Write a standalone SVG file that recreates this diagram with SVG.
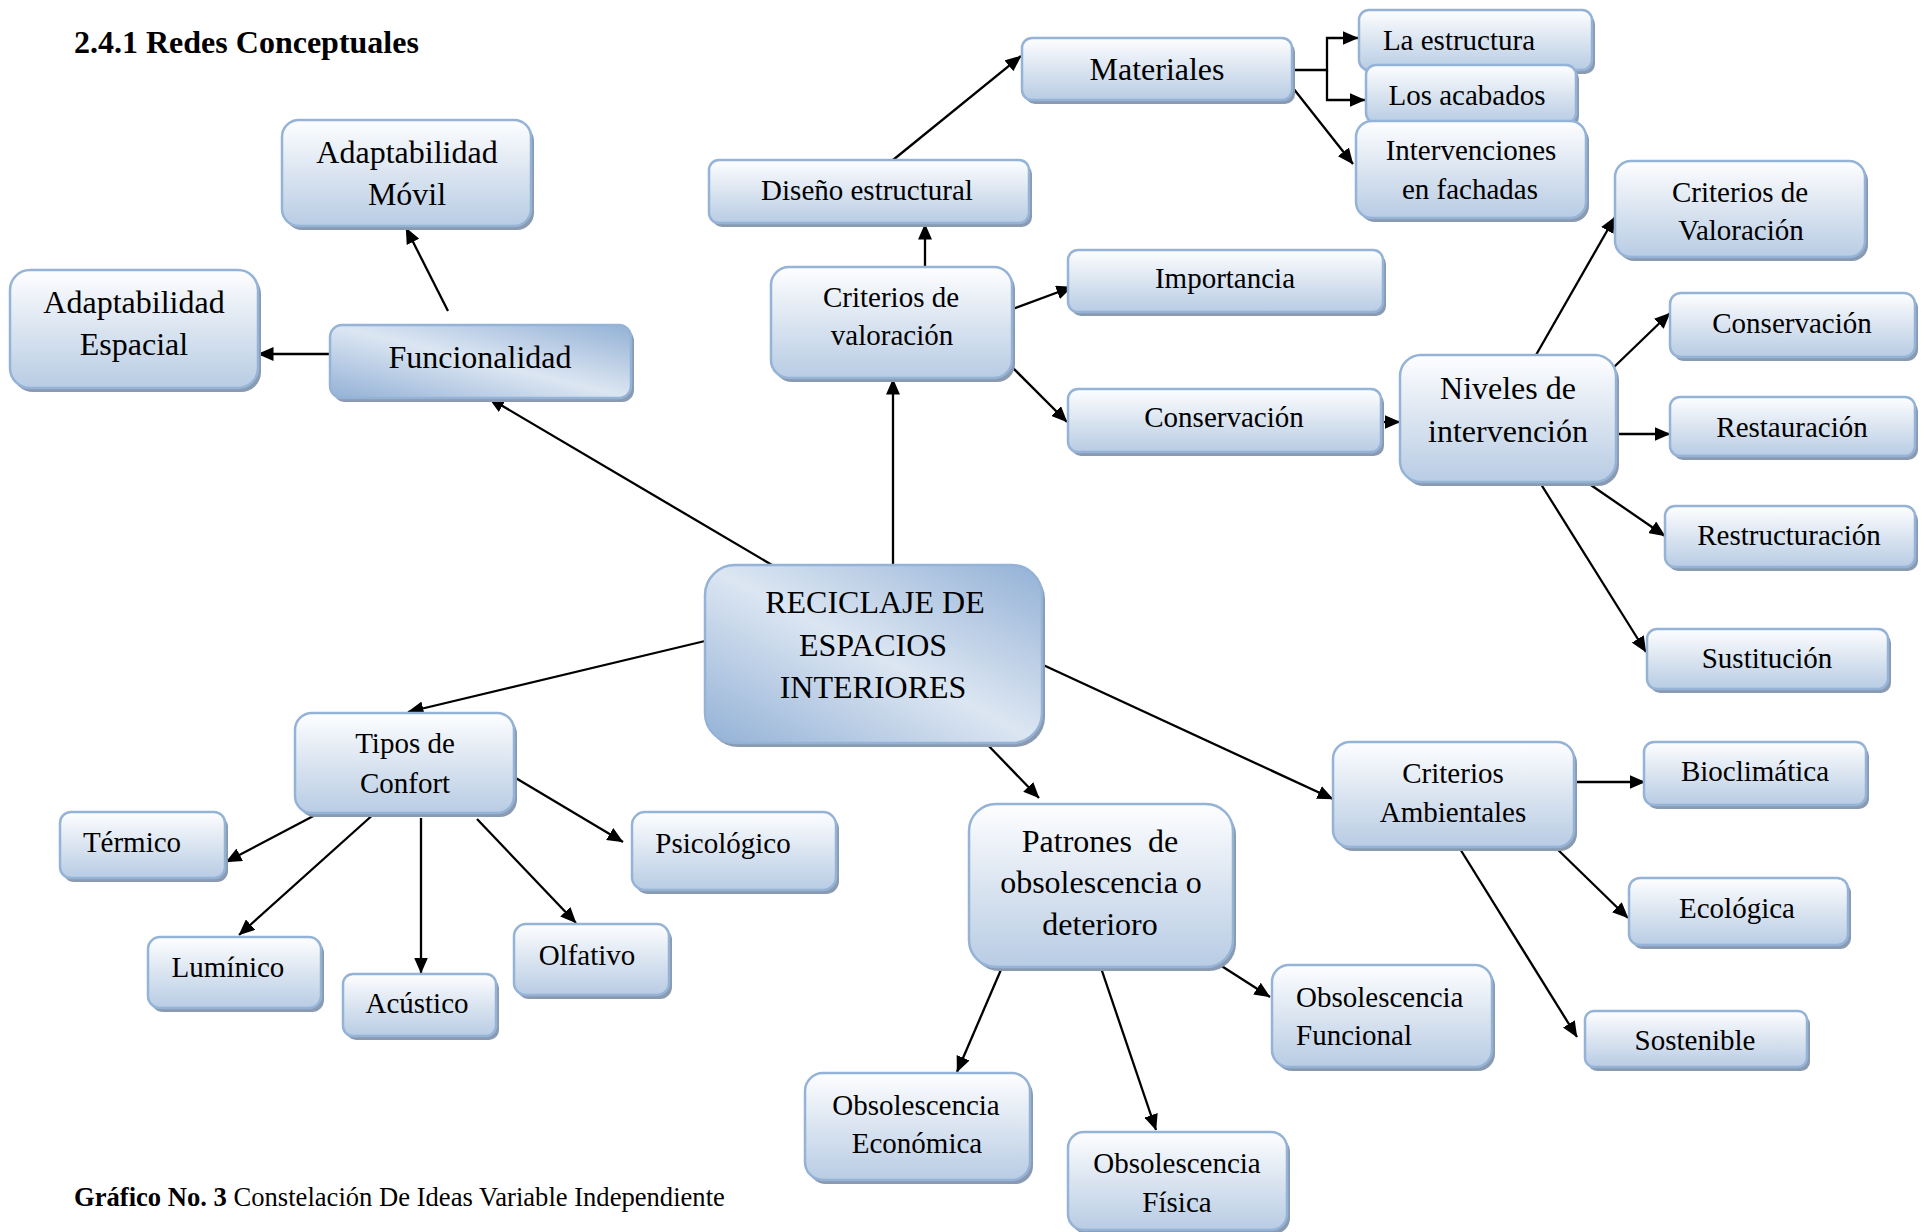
<svg xmlns="http://www.w3.org/2000/svg" width="1930" height="1232" viewBox="0 0 1930 1232">
<defs>
<linearGradient id="g" x1="0" y1="0" x2="0" y2="1">
<stop offset="0" stop-color="#fefeff"/>
<stop offset="0.55" stop-color="#d7e2ef"/>
<stop offset="1" stop-color="#b8cce4"/>
</linearGradient>
<linearGradient id="ge" x1="1" y1="0" x2="0" y2="1">
<stop offset="0" stop-color="#93b1d6"/>
<stop offset="0.5" stop-color="#dce6f2"/>
<stop offset="1" stop-color="#93b1d6"/>
</linearGradient>
<marker id="ah" viewBox="0 0 16 14" refX="15.5" refY="7" markerWidth="16" markerHeight="14" markerUnits="userSpaceOnUse" orient="auto">
<path d="M0,0 L16,7 L0,14 z" fill="#000"/>
</marker>
<style>
.n{fill:url(#g);stroke:#95b3d7;stroke-width:2.5}
.e{fill:url(#ge);stroke:#95b3d7;stroke-width:2.5}
.s{fill:#8a9ab0}
text{font-family:'Liberation Serif','Times New Roman',serif;font-size:29px;fill:#000;text-anchor:middle}
.L{font-size:32px}
.c{font-size:32px}
.st{text-anchor:start}
#edges path{fill:none;stroke:#000;stroke-width:2.3;marker-end:url(#ah)}
</style>
</defs>
<rect width="1930" height="1232" fill="#fff"/>
<g id="title"><text x="74" y="53" class="st" style="font-size:32px;font-weight:bold">2.4.1 Redes Conceptuales</text></g>
<g id="caption"><text x="74" y="1206" class="st" style="font-size:26.6px"><tspan font-weight="bold">Gráfico No. 3</tspan> Constelación De Ideas Variable Independiente</text></g>

<g id="edges">
<path d="M772,565 L489,398"/>
<path d="M330,354 L258,354"/>
<path d="M448,311 L406,228"/>
<path d="M893,565 L893,379"/>
<path d="M925,268 L925,224"/>
<path d="M893,160 L1021,56"/>
<path d="M1292,70 H1327 V38 H1358"/>
<path d="M1327,70 V100 H1365"/>
<path d="M1293,88 L1353,164"/>
<path d="M1010,310 L1072,287"/>
<path d="M1011,366 L1067,422"/>
<path d="M1381,422 L1400,422"/>
<path d="M1536,355 L1615,217"/>
<path d="M1614,367 L1670,313"/>
<path d="M1614,434 L1670,434"/>
<path d="M1585,481 L1665,536"/>
<path d="M1539,481 L1646,652"/>
<path d="M705,641 L408,712"/>
<path d="M321,812 L226,862"/>
<path d="M376,812 L239,935"/>
<path d="M421,818 L421,973"/>
<path d="M477,819 L576,923"/>
<path d="M514,777 L623,842"/>
<path d="M984,741 L1039,798"/>
<path d="M1041,664 L1333,799"/>
<path d="M1003,965 L957,1072"/>
<path d="M1100,965 L1156,1130"/>
<path d="M1220,965 L1270,997"/>
<path d="M1573,782 L1645,782"/>
<path d="M1552,844 L1628,918"/>
<path d="M1457,844 L1577,1037"/>
</g>

<g id="n-movil"><rect class="s" x="285" y="124" width="249" height="106" rx="17"/><rect class="n" x="282" y="120" width="249" height="106" rx="17"/><text class="L" x="407" y="163">Adaptabilidad</text><text class="L" x="407" y="205">Móvil</text></g>
<g id="n-espacial"><rect class="s" x="13" y="274" width="248" height="118" rx="20"/><rect class="n" x="10" y="270" width="248" height="118" rx="20"/><text class="L" x="134" y="313">Adaptabilidad</text><text class="L" x="134" y="355">Espacial</text></g>
<g id="n-funcionalidad"><rect class="s" x="333" y="329" width="301" height="73" rx="12"/><rect class="e" x="330" y="325" width="301" height="73" rx="12"/><text class="L" x="480" y="368">Funcionalidad</text></g>
<g id="n-diseno"><rect class="s" x="712" y="164" width="320" height="63" rx="10"/><rect class="n" x="709" y="160" width="320" height="63" rx="10"/><text x="867" y="200">Diseño estructural</text></g>
<g id="n-criterios-val"><rect class="s" x="774" y="271" width="241" height="111" rx="18"/><rect class="n" x="771" y="267" width="241" height="111" rx="18"/><text x="891" y="307">Criterios de</text><text x="892" y="345">valoración</text></g>
<g id="n-importancia"><rect class="s" x="1071" y="254" width="315" height="62" rx="10"/><rect class="n" x="1068" y="250" width="315" height="62" rx="10"/><text x="1225" y="288">Importancia</text></g>
<g id="n-conservacion"><rect class="s" x="1071" y="393" width="313" height="63" rx="10"/><rect class="n" x="1068" y="389" width="313" height="63" rx="10"/><text x="1224" y="427">Conservación</text></g>
<g id="n-materiales"><rect class="s" x="1025" y="42" width="270" height="62" rx="10"/><rect class="n" x="1022" y="38" width="270" height="62" rx="10"/><text class="L" x="1157" y="80">Materiales</text></g>
<g id="n-estructura"><rect class="s" x="1362" y="14" width="233" height="60" rx="10"/><rect class="n" x="1359" y="10" width="233" height="60" rx="10"/><text x="1459" y="50">La estructura</text></g>
<g id="n-acabados"><rect class="s" x="1369" y="69" width="210" height="58" rx="10"/><rect class="n" x="1366" y="65" width="210" height="58" rx="10"/><text x="1467" y="105">Los acabados</text></g>
<g id="n-fachadas"><rect class="s" x="1359" y="125" width="230" height="97" rx="16"/><rect class="n" x="1356" y="121" width="230" height="97" rx="16"/><text x="1471" y="160">Intervenciones</text><text x="1470" y="199">en fachadas</text></g>
<g id="n-criterios-val2"><rect class="s" x="1618" y="165" width="250" height="96" rx="16"/><rect class="n" x="1615" y="161" width="250" height="96" rx="16"/><text x="1740" y="202">Criterios de</text><text x="1741" y="240">Valoración</text></g>
<g id="n-conservacion2"><rect class="s" x="1673" y="297" width="245" height="64" rx="11"/><rect class="n" x="1670" y="293" width="245" height="64" rx="11"/><text x="1792" y="333">Conservación</text></g>
<g id="n-restauracion"><rect class="s" x="1673" y="401" width="245" height="59" rx="10"/><rect class="n" x="1670" y="397" width="245" height="59" rx="10"/><text x="1792" y="437">Restauración</text></g>
<g id="n-niveles"><rect class="s" x="1403" y="359" width="216" height="127" rx="21"/><rect class="n" x="1400" y="355" width="216" height="127" rx="21"/><text class="L" x="1508" y="399">Niveles de</text><text class="L" x="1508" y="442">intervención</text></g>
<g id="n-restructuracion"><rect class="s" x="1668" y="510" width="250" height="61" rx="10"/><rect class="n" x="1665" y="506" width="250" height="61" rx="10"/><text x="1789" y="545">Restructuración</text></g>
<g id="n-sustitucion"><rect class="s" x="1650" y="633" width="241" height="60" rx="10"/><rect class="n" x="1647" y="629" width="241" height="60" rx="10"/><text x="1767" y="668">Sustitución</text></g>
<g id="n-central"><rect class="s" x="708" y="569" width="337" height="178" rx="30"/><rect class="e" x="705" y="565" width="337" height="178" rx="30"/><text class="c" x="875" y="613">RECICLAJE DE</text><text class="c" x="873" y="656">ESPACIOS</text><text class="c" x="873" y="698">INTERIORES</text></g>
<g id="n-tipos"><rect class="s" x="298" y="717" width="219" height="100" rx="17"/><rect class="n" x="295" y="713" width="219" height="100" rx="17"/><text x="405" y="753">Tipos de</text><text x="405" y="793">Confort</text></g>
<g id="n-termico"><rect class="s" x="63" y="816" width="165" height="66" rx="11"/><rect class="n" x="60" y="812" width="165" height="66" rx="11"/><text x="132" y="852">Térmico</text></g>
<g id="n-luminico"><rect class="s" x="151" y="941" width="173" height="71" rx="12"/><rect class="n" x="148" y="937" width="173" height="71" rx="12"/><text x="228" y="977">Lumínico</text></g>
<g id="n-acustico"><rect class="s" x="346" y="978" width="153" height="62" rx="10"/><rect class="n" x="343" y="974" width="153" height="62" rx="10"/><text x="417" y="1013">Acústico</text></g>
<g id="n-olfativo"><rect class="s" x="517" y="928" width="155" height="71" rx="12"/><rect class="n" x="514" y="924" width="155" height="71" rx="12"/><text x="587" y="965">Olfativo</text></g>
<g id="n-psicologico"><rect class="s" x="635" y="816" width="204" height="78" rx="13"/><rect class="n" x="632" y="812" width="204" height="78" rx="13"/><text x="723" y="853">Psicológico</text></g>
<g id="n-patrones"><rect class="s" x="972" y="808" width="264" height="163" rx="27"/><rect class="n" x="969" y="804" width="264" height="163" rx="27"/><text class="L" x="1100" y="852" style="white-space:pre">Patrones  de</text><text class="L" x="1101" y="893">obsolescencia o</text><text class="L" x="1100" y="935">deterioro</text></g>
<g id="n-ambientales"><rect class="s" x="1336" y="746" width="241" height="105" rx="17"/><rect class="n" x="1333" y="742" width="241" height="105" rx="17"/><text x="1453" y="783">Criterios</text><text x="1453" y="822">Ambientales</text></g>
<g id="n-bioclimatica"><rect class="s" x="1647" y="746" width="222" height="63" rx="10"/><rect class="n" x="1644" y="742" width="222" height="63" rx="10"/><text x="1755" y="781">Bioclimática</text></g>
<g id="n-ecologica"><rect class="s" x="1632" y="882" width="219" height="67" rx="11"/><rect class="n" x="1629" y="878" width="219" height="67" rx="11"/><text x="1737" y="918">Ecológica</text></g>
<g id="n-sostenible"><rect class="s" x="1588" y="1015" width="222" height="56" rx="9"/><rect class="n" x="1585" y="1011" width="222" height="56" rx="9"/><text x="1695" y="1050">Sostenible</text></g>
<g id="n-funcional"><rect class="s" x="1275" y="969" width="220" height="102" rx="17"/><rect class="n" x="1272" y="965" width="220" height="102" rx="17"/><text class="st" x="1296" y="1007">Obsolescencia</text><text class="st" x="1296" y="1045">Funcional</text></g>
<g id="n-economica"><rect class="s" x="808" y="1077" width="225" height="107" rx="18"/><rect class="n" x="805" y="1073" width="225" height="107" rx="18"/><text x="916" y="1115">Obsolescencia</text><text x="917" y="1153">Económica</text></g>
<g id="n-fisica"><rect class="s" x="1071" y="1136" width="219" height="98" rx="16"/><rect class="n" x="1068" y="1132" width="219" height="98" rx="16"/><text x="1177" y="1212">Física</text><text x="1177" y="1173">Obsolescencia</text></g>
</svg>
